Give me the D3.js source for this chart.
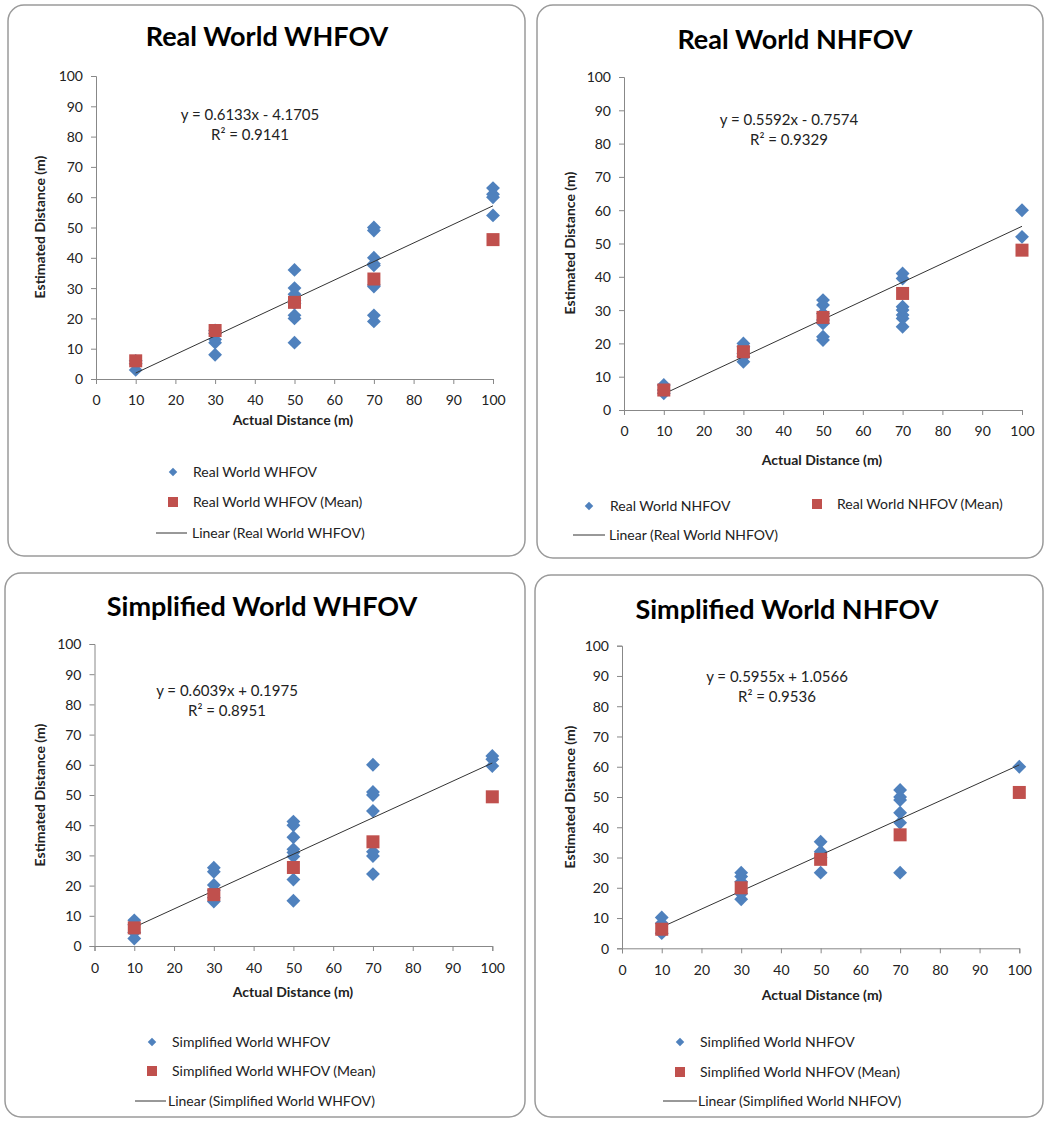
<!DOCTYPE html>
<html>
<head>
<meta charset="utf-8">
<script src="https://cdn.jsdelivr.net/npm/d3@7/dist/d3.min.js"></script>
<style>
  html, body { margin: 0; padding: 0; background: #fff; }
  svg { display: block; font-family: Lato, "Open Sans", sans-serif; }
</style>
</head>
<body>
<svg id="chart" width="1046" height="1121"></svg>
<script>
// ---------- DATA ----------
const xTicks = [0, 10, 20, 30, 40, 50, 60, 70, 80, 90, 100];
const yTicks = [0, 10, 20, 30, 40, 50, 60, 70, 80, 90, 100];
const xCategories = [10, 30, 50, 70, 100];

const panelTitles = ["Real World WHFOV", "Real World NHFOV", "Simplified World WHFOV", "Simplified World NHFOV"];

// raw estimates per actual distance (x = 10, 30, 50, 70, 100)
const rwWhfovValues = [
  [3, 5, 6],
  [8, 12, 13, 15, 16],
  [12, 20, 21, 25, 26, 28, 30, 36],
  [19, 21, 30.5, 31, 37.5, 38, 40, 49, 50],
  [54, 60, 61, 63]
];
const rwWhfovMeans = [6, 16, 25.3, 33, 46];

const rwNhfovValues = [
  [5, 6, 7.5],
  [14.5, 16, 17, 19, 20],
  [21, 22, 26, 27, 29, 31.5, 33],
  [25, 27.5, 28.5, 30, 31, 39.5, 41],
  [52, 60]
];
const rwNhfovMeans = [6, 17.5, 27.8, 35, 48];

const swWhfovValues = [
  [2.5, 4.5, 7, 8.5],
  [14.7, 16, 18.5, 20.2, 24.6, 25.9],
  [15, 22, 29.6, 31, 32, 36, 40, 41.2],
  [23.8, 29.8, 31.2, 44.7, 50, 51, 60],
  [59.6, 61.8, 62.9]
];
const swWhfovMeans = [6, 17, 26, 34.5, 49.4];

const swNhfovValues = [
  [5, 8.3, 10.2],
  [16.2, 18, 22, 23.7, 25],
  [25, 30, 31.9, 35.2],
  [25, 41.5, 44.8, 49, 50, 52.3],
  [60]
];
const swNhfovMeans = [6.3, 20, 29.4, 37.5, 51.5];

const trendSlopes = [0.6133, 0.5592, 0.6039, 0.5955];
const trendIntercepts = [-4.1705, -0.7574, 0.1975, 1.0566];
const equationLabels = ["y = 0.6133x - 4.1705", "y = 0.5592x - 0.7574", "y = 0.6039x + 0.1975", "y = 0.5955x + 1.0566"];
const r2Labels = ["R\u00b2 = 0.9141", "R\u00b2 = 0.9329", "R\u00b2 = 0.8951", "R\u00b2 = 0.9536"];

const valueSets = [rwWhfovValues, rwNhfovValues, swWhfovValues, swNhfovValues];
const meanSets = [rwWhfovMeans, rwNhfovMeans, swWhfovMeans, swNhfovMeans];

// ---------- LAYOUT ----------
const layouts = [
  { rect: [8, 5, 517, 551], x0: 96, x1: 493, yT: 76, yB: 379, title: [267, 46],
    eq: [250, 120], xlab: 405, xtitle: [293, 425], ytitle: [40, 227],
    legend: { diamond: [173, 472, 193], square: [173, 502, 193], line: [156, 187, 533, 192] } },
  { rect: [537, 5, 506, 553], x0: 624, x1: 1022, yT: 77, yB: 410, title: [795, 49],
    eq: [789, 125], xlab: 436, xtitle: [822, 465], ytitle: [570, 243],
    legend: { diamond: [589, 506, 610], square: [817, 504, 837], line: [573, 605, 535, 609] } },
  { rect: [5, 573, 520, 544], x0: 94.5, x1: 492.3, yT: 644, yB: 946, title: [262, 616],
    eq: [227, 696], xlab: 973, xtitle: [293, 997], ytitle: [40, 795],
    legend: { diamond: [152, 1042, 172], square: [152, 1071, 172], line: [135, 166, 1101, 168] } },
  { rect: [535, 575, 508, 542], x0: 622, x1: 1019.3, yT: 645.7, yB: 948.3, title: [787, 619],
    eq: [777, 682], xlab: 975, xtitle: [822, 1000], ytitle: [570, 797],
    legend: { diamond: [680, 1042, 700], square: [680, 1072, 700], line: [663, 697, 1101, 698] } }
];

const BLUE = "#4F81BD", RED = "#C0504D", AXIS = "#888888", TXT = "#222";
const svg = d3.select("#chart");

layouts.forEach((L, i) => {
  const g = svg.append("g");
  // panel border
  g.append("rect").attr("x", L.rect[0]).attr("y", L.rect[1])
    .attr("width", L.rect[2]).attr("height", L.rect[3])
    .attr("rx", 16).attr("ry", 16)
    .attr("fill", "#fff").attr("stroke", "#9a9a9a").attr("stroke-width", 1.5);

  const x = d3.scaleLinear().domain([0, 100]).range([L.x0, L.x1]);
  const y = d3.scaleLinear().domain([0, 100]).range([L.yB, L.yT]);

  // title
  g.append("text").attr("x", L.title[0]).attr("y", L.title[1])
    .attr("text-anchor", "middle").attr("font-size", 27).attr("font-weight", 700)
    .attr("fill", "#000").text(panelTitles[i]);

  // axes
  const yAxis = d3.axisLeft(y).tickValues(yTicks).tickSize(5).tickPadding(8);
  const ya = g.append("g").attr("transform", `translate(${L.x0},0)`).call(yAxis);
  const xAxis = d3.axisBottom(x).tickValues(xTicks).tickSize(5).tickPadding(0);
  const xa = g.append("g").attr("transform", `translate(0,${L.yB})`).call(xAxis);
  [ya, xa].forEach(a => {
    a.select(".domain").attr("stroke", AXIS).attr("stroke-width", 1);
    a.selectAll(".tick line").attr("stroke", AXIS);
    a.selectAll(".tick text").attr("font-size", 14).attr("fill", TXT).attr("font-family", "Lato, sans-serif");
  });
  xa.selectAll(".tick text").attr("dy", null).attr("y", L.xlab - L.yB);
  ya.selectAll(".tick text").attr("dy", "0.35em");

  // axis titles
  g.append("text").attr("x", L.xtitle[0]).attr("y", L.xtitle[1])
    .attr("text-anchor", "middle").attr("font-size", 14).attr("font-weight", 700)
    .attr("fill", TXT).text("Actual Distance (m)");
  g.append("text").attr("transform", `translate(${L.ytitle[0]},${L.ytitle[1]}) rotate(-90)`)
    .attr("text-anchor", "middle").attr("dy", "0.35em").attr("font-size", 14).attr("font-weight", 700)
    .attr("fill", TXT).text("Estimated Distance (m)");

  // points
  const pts = [];
  valueSets[i].forEach((vals, k) => vals.forEach(v => pts.push([xCategories[k], v])));
  g.append("g").selectAll("path").data(pts).join("path")
    .attr("d", d3.symbol().type(d3.symbolSquare).size(96)())
    .attr("transform", d => `translate(${x(d[0])},${y(d[1])}) rotate(45)`)
    .attr("fill", BLUE);

  // trend line from min x to max x
  const xmin = d3.min(xCategories), xmax = d3.max(xCategories);
  const f = t => trendSlopes[i] * t + trendIntercepts[i];
  g.append("line")
    .attr("x1", x(xmin)).attr("y1", y(f(xmin)))
    .attr("x2", x(xmax)).attr("y2", y(f(xmax)))
    .attr("stroke", "#333").attr("stroke-width", 1);

  // means
  g.append("g").selectAll("rect").data(meanSets[i].map((m, k) => [xCategories[k], m])).join("rect")
    .attr("x", d => x(d[0]) - 6.5).attr("y", d => y(d[1]) - 6.5)
    .attr("width", 13).attr("height", 13).attr("fill", RED);

  // equation
  g.append("text").attr("x", L.eq[0]).attr("y", L.eq[1]).attr("text-anchor", "middle")
    .attr("font-size", 15).attr("fill", TXT).text(equationLabels[i]);
  g.append("text").attr("x", L.eq[0]).attr("y", L.eq[1] + 20).attr("text-anchor", "middle")
    .attr("font-size", 15).attr("fill", TXT).text(r2Labels[i]);

  // legend
  const lg = L.legend;
  g.append("path").attr("d", d3.symbol().type(d3.symbolSquare).size(36)())
    .attr("transform", `translate(${lg.diamond[0]},${lg.diamond[1]}) rotate(45)`).attr("fill", BLUE);
  g.append("text").attr("x", lg.diamond[2]).attr("y", lg.diamond[1]).attr("dy", "0.35em")
    .attr("font-size", 14).attr("fill", TXT).text(panelTitles[i]);
  g.append("rect").attr("x", lg.square[0] - 5).attr("y", lg.square[1] - 5)
    .attr("width", 10).attr("height", 10).attr("fill", RED);
  g.append("text").attr("x", lg.square[2]).attr("y", lg.square[1]).attr("dy", "0.35em")
    .attr("font-size", 14).attr("fill", TXT).text(panelTitles[i] + " (Mean)");
  g.append("line").attr("x1", lg.line[0]).attr("x2", lg.line[1])
    .attr("y1", lg.line[2]).attr("y2", lg.line[2]).attr("stroke", "#333").attr("stroke-width", 1);
  g.append("text").attr("x", lg.line[3]).attr("y", lg.line[2]).attr("dy", "0.35em")
    .attr("font-size", 14).attr("fill", TXT).text("Linear (" + panelTitles[i] + ")");
});
</script>
</body>
</html>
